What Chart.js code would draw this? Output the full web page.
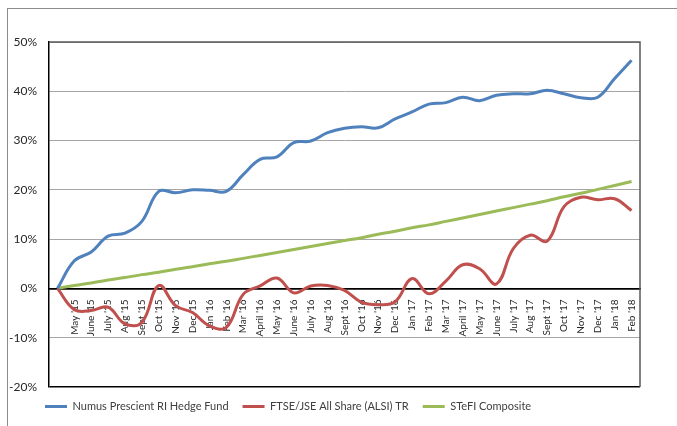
<!DOCTYPE html>
<html>
<head>
<meta charset="utf-8">
<script src="https://cdn.jsdelivr.net/npm/chart.js@4/dist/chart.umd.min.js"></script>
<style>
  body { margin: 0; background: #fff; }
  #wrap { position: relative; width: 677px; height: 426px; }
  #frame { position: absolute; left: 7px; top: 8px; width: 680px; height: 430px;
           border-left: 1px solid #8c8c8c; border-top: 1px solid #8c8c8c; }
  canvas { position: absolute; left: 0; top: 0; }
</style>
</head>
<body>
<div id="wrap">
  <div id="frame"></div>
  <canvas id="chart" width="677" height="426"></canvas>
</div>
<script>
// Month labels (first point is the common start, unlabelled)
const months = ['', "May '15", "June '15", "July '15", "Aug '15", "Sept '15", "Oct '15", "Nov '15", "Dec '15",
  "Jan '16", "Feb '16", "Mar '16", "April '16", "May '16", "June '16", "July '16", "Aug '16", "Sept '16",
  "Oct '16", "Nov '16", "Dec '16", "Jan '17", "Feb '17", "Mar '17", "April '17", "May '17", "June '17",
  "July '17", "Aug '17", "Sept '17", "Oct '17", "Nov '17", "Dec '17", "Jan '18", "Feb '18"];

// Cumulative returns (%)
const numus = [0, 5.6, 7.4, 10.6, 11.2, 13.6, 19.7, 19.4, 20.0, 19.9, 19.7, 23.1, 26.2, 26.7, 29.6, 29.9,
  31.6, 32.5, 32.8, 32.6, 34.4, 35.8, 37.4, 37.7, 38.8, 38.1, 39.2, 39.5, 39.5, 40.2, 39.5, 38.7, 38.8, 42.6, 46.3];
const alsi = [0, -4.3, -4.5, -3.8, -7.2, -6.9, 0.6, -3.5, -4.9, -7.6, -7.9, -1.2, 0.5, 2.1, -0.9, 0.5,
  0.6, -0.4, -2.8, -3.3, -2.7, 2.0, -1.1, 1.5, 4.8, 4.0, 0.9, 8.1, 10.8, 9.6, 16.6, 18.5, 18.0, 18.2, 15.8];
const stefi = [0, 0.6, 1.1, 1.7, 2.2, 2.8, 3.3, 3.9, 4.4, 5.0, 5.5, 6.1, 6.7, 7.3, 7.9, 8.5,
  9.1, 9.7, 10.3, 11.0, 11.6, 12.3, 12.9, 13.6, 14.3, 15.0, 15.7, 16.4, 17.1, 17.8, 18.6, 19.3, 20.1, 20.9, 21.7];

const seriesNames = ['Numus Prescient RI Hedge Fund', 'FTSE/JSE All Share (ALSI) TR', 'STeFI Composite'];
const seriesColors = ['#4f81bd', '#c0504d', '#9bbb59'];

const font = "Lato, 'Open Sans', sans-serif";

// frame around the plot area + move the legend to the left
const plotFrame = {
  id: 'plotFrame',
  beforeDraw(chart) {
    chart.legend.left = 31;
  },
  afterDatasetsDraw(chart) {
    const a = chart.chartArea;
    const c = chart.ctx;
    c.save();
    c.strokeStyle = '#595959';
    c.lineWidth = 1.5;
    c.beginPath();
    c.moveTo(a.left, a.top);
    c.lineTo(a.right, a.top);
    c.lineTo(a.right, a.bottom);
    c.stroke();
    c.restore();
  }
};

function makeSet(i, data) {
  return {
    label: seriesNames[i],
    data: data,
    borderColor: seriesColors[i],
    backgroundColor: seriesColors[i],
    borderWidth: 3,
    pointRadius: 0,
    pointStyle: 'line',
    tension: 0.4,
    fill: false
  };
}

new Chart(document.getElementById('chart'), {
  type: 'line',
  data: {
    labels: months,
    datasets: [makeSet(0, numus), makeSet(1, alsi), makeSet(2, stefi)]
  },
  options: {
    responsive: false,
    animation: false,
    layout: { padding: { left: 0, right: 37, top: 42, bottom: 4 } },
    plugins: {
      legend: {
        position: 'bottom',
        align: 'start',
        labels: {
          usePointStyle: true,
          pointStyleWidth: 22,
          padding: 14,
          color: '#404040',
          font: { family: font, size: 11 }
        }
      },
      tooltip: { enabled: false }
    },
    scales: {
      x: {
        position: { y: 0 },
        offset: true,
        grid: { display: false },
        border: { color: '#000', width: 1.5 },
        ticks: {
          autoSkip: false,
          minRotation: 90,
          maxRotation: 90,
          padding: 3,
          color: '#262626',
          font: { family: font, size: 10 }
        }
      },
      y: {
        min: -20,
        max: 50,
        afterFit(scale) { scale.width = 49; },
        border: { color: '#000', width: 1.5 },
        grid: {
          drawTicks: false,
          color: ctx => (ctx.tick.value === 0 || ctx.tick.value === -20) ? '#000' : '#a6a6a6',
          lineWidth: ctx => (ctx.tick.value === 0 || ctx.tick.value === -20) ? 1.5 : 1
        },
        ticks: {
          stepSize: 10,
          padding: 12,
          color: '#262626',
          font: { family: font, size: 12 },
          callback: v => v + '%'
        }
      }
    }
  },
  plugins: [plotFrame]
});
</script>
</body>
</html>
